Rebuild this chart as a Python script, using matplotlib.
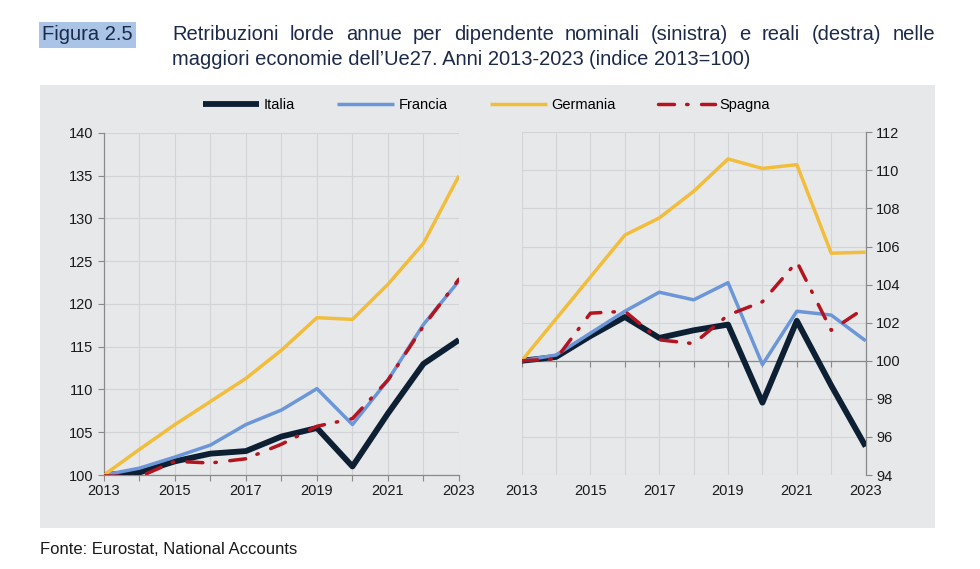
import numpy as np
import matplotlib.pyplot as plt

# data (index 2013=100)
years = np.arange(2013, 2024)
series = ["Italia", "Francia", "Germania", "Spagna"]

# nominal (left)
nom_italia = [100, 100.3, 101.6, 102.5, 102.8, 104.5, 105.5, 101.0, 107.2, 113.0, 115.8]
nom_francia = [100, 100.8, 102.1, 103.5, 105.9, 107.6, 110.1, 105.9, 111.1, 117.6, 122.7]
nom_germania = [100, 103.0, 105.9, 108.6, 111.3, 114.6, 118.4, 118.2, 122.3, 127.1, 135.0]
nom_spagna = [99.9, 99.8, 101.6, 101.4, 101.9, 103.6, 105.7, 106.6, 111.1, 117.4, 122.9]

# real (right)
real_italia = [100, 100.2, 101.3, 102.3, 101.2, 101.6, 101.9, 97.8, 102.1, 98.7, 95.5]
real_francia = [100, 100.3, 101.45, 102.6, 103.6, 103.2, 104.1, 99.8, 102.6, 102.4, 101.05]
real_germania = [100, 102.2, 104.4, 106.6, 107.5, 108.9, 110.6, 110.1, 110.3, 105.65, 105.7]
real_spagna = [100, 100.1, 102.5, 102.6, 101.1, 100.9, 102.4, 103.1, 105.2, 101.6, 102.8]

colors = {"Italia": "#0c1f33", "Francia": "#6b96d8",
          "Germania": "#f3bd3c", "Spagna": "#b3141f"}
widths = {"Italia": 4.2, "Francia": 2.5, "Germania": 2.5, "Spagna": 2.5}
styles = {"Italia": "-", "Francia": "-", "Germania": "-",
          "Spagna": (0, (4.6, 3.5, 0.4, 3.9))}

panel_bg = "#e7e8ea"
grid_c = "#d3d4d7"
spine_c = "#8a8a8a"
title_c = "#1c2a4a"
title_font = ['Liberation Sans', 'DejaVu Sans']

plt.rcParams['font.family'] = ['Liberation Sans', 'DejaVu Sans']

fig = plt.figure(figsize=(9.8, 5.69), dpi=100)
fig.patch.set_facecolor("white")

# grey panel behind the charts
bg = fig.add_axes([0.0408, 0.0721, 0.913, 0.7785], zorder=-1)
bg.set_facecolor(panel_bg)
bg.set_xticks([])
bg.set_yticks([])
for s in bg.spines.values():
    s.set_visible(False)

axL = fig.add_axes([0.1061, 0.1652, 0.3622, 0.6011])
axR = fig.add_axes([0.5323, 0.1652, 0.3510, 0.6023])

def draw(ax, data):
    for name, vals in zip(series, data):
        ax.plot(years, vals, color=colors[name], lw=widths[name],
                linestyle=styles[name], label=name,
                solid_capstyle="butt", dash_capstyle="round", zorder=3)
    ax.set_facecolor("none")
    ax.set_xlim(2013, 2023)
    ax.set_xticks(years)
    ax.set_xticklabels([str(y) if (y - 2013) % 2 == 0 else "" for y in years])
    ax.grid(True, color=grid_c, lw=0.8, zorder=0)
    ax.tick_params(colors=spine_c, labelcolor="#1a1a1a", labelsize=10.5,
                   length=4, width=0.8)
    for s in ax.spines.values():
        s.set_color(spine_c)
        s.set_linewidth(0.9)

draw(axL, [nom_italia, nom_francia, nom_germania, nom_spagna])
axL.set_ylim(100, 140)
axL.set_yticks(np.arange(100, 141, 5))
axL.spines["top"].set_visible(False)
axL.spines["right"].set_visible(False)
axL.tick_params(axis="x", pad=2.5)

draw(axR, [real_italia, real_francia, real_germania, real_spagna])
axR.set_ylim(94, 112)
axR.set_yticks(np.arange(94, 113, 2))
axR.yaxis.tick_right()
axR.spines["top"].set_visible(False)
axR.spines["left"].set_visible(False)
axR.spines["bottom"].set_position(("data", 100))
# push the year labels down to the bottom of the plot
h_px = axR.get_position().height * fig.get_figheight() * fig.dpi
pad_pt = (6 / 18) * h_px * 72 / fig.dpi
axR.tick_params(axis="x", pad=pad_pt + 2.5)

handles, labels = axL.get_legend_handles_labels()
fig.legend(handles, labels, loc="center", bbox_to_anchor=(0.496, 0.8155),
           ncol=4, frameon=False, fontsize=10.5, handlelength=3.9,
           columnspacing=2.9, handletextpad=0.3)

# title
fig.text(0.043, 0.939, "Figura 2.5", fontsize=14.5, color=title_c,
         family=title_font, va="center", ha="left",
         bbox=dict(facecolor="#a9c4e6", edgecolor="none", pad=2.5))

# first line justified between x=172 and x=935 px
line1 = "Retribuzioni lorde annue per dipendente nominali (sinistra) e reali (destra) nelle".split()
fig.canvas.draw()
renderer = fig.canvas.get_renderer()
inv = fig.transFigure.inverted()
x_left, x_right = 172 / 980, 935 / 980
words = [fig.text(0, 0.939, w, fontsize=14.5, color=title_c, family=title_font,
                  va="center", ha="left") for w in line1]
wid = [inv.transform(t.get_window_extent(renderer))[1, 0] -
       inv.transform(t.get_window_extent(renderer))[0, 0] for t in words]
gap = (x_right - x_left - sum(wid)) / (len(words) - 1)
x = x_left
for t, w in zip(words, wid):
    t.set_x(x)
    x += w + gap

t2 = fig.text(x_left, 0.895, "maggiori economie dell\u2019Ue27. Anni 2013-2023",
              fontsize=14.5, color=title_c, va="center", ha="left",
              family=title_font)
bb = t2.get_window_extent(renderer).transformed(inv)
fig.text(bb.x1 + 0.005, 0.895, "(indice 2013=100)", fontsize=14.5,
         color=title_c, va="center", ha="left", family=title_font)

fig.text(0.041, 0.035, "Fonte: Eurostat, National Accounts", fontsize=12,
         color="#1a1a1a", va="center", ha="left")

fig.savefig("out.png", dpi=100)
